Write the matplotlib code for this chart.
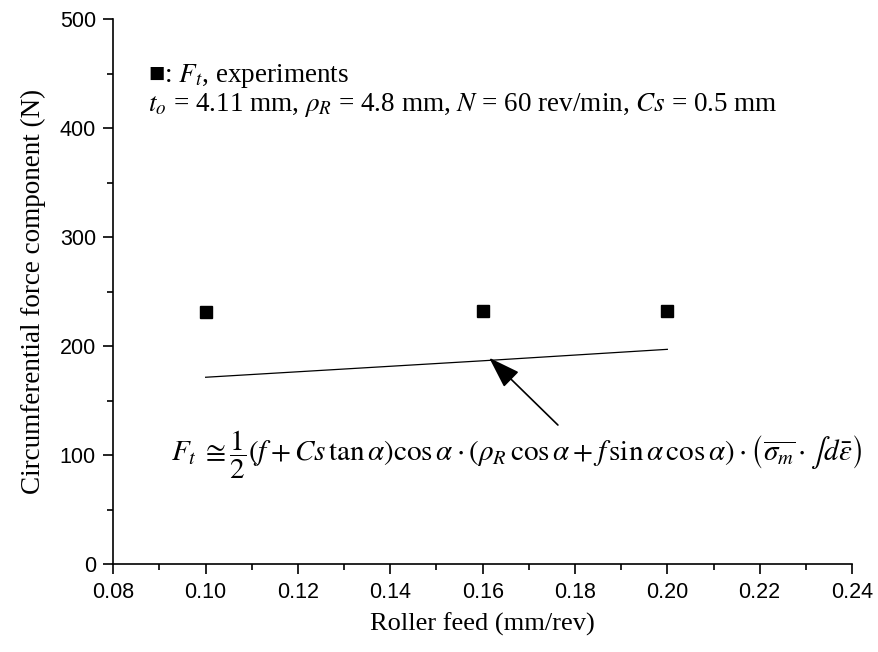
import matplotlib
matplotlib.use("Agg")
import matplotlib.pyplot as plt
from matplotlib.ticker import MultipleLocator, FormatStrFormatter

plt.rcParams["mathtext.fontset"] = "stix"
SERIF = "Liberation Serif"
SANS = "Liberation Sans"

# experimental circumferential force
feed_exp = [0.10, 0.16, 0.20]
force_exp = [231.6, 232.5, 232.5]

# analytical prediction
feed_calc = [0.10, 0.16, 0.20]
force_calc = [171.5, 186.6, 197.1]

x_ticks = [0.08, 0.10, 0.12, 0.14, 0.16, 0.18, 0.20, 0.22, 0.24]
y_ticks = [0, 100, 200, 300, 400, 500]

fig = plt.figure(figsize=(8.79, 6.52), dpi=100)
ax = fig.add_axes([0.1289, 0.1345, 0.9693 - 0.1289, 0.9709 - 0.1345])

ax.plot(feed_calc, force_calc, color="black", linewidth=0.9)
ax.plot(feed_exp, force_exp, linestyle="none", marker="s", markersize=8,
        color="black")

ax.set_xlim(x_ticks[0], x_ticks[-1])
ax.set_ylim(y_ticks[0], y_ticks[-1])
ax.set_xticks(x_ticks)
ax.set_yticks(y_ticks)
ax.xaxis.set_minor_locator(MultipleLocator(0.01))
ax.yaxis.set_minor_locator(MultipleLocator(50))
ax.xaxis.set_major_formatter(FormatStrFormatter("%.2f"))
for s in ("top", "right"):
    ax.spines[s].set_visible(False)
for s in ("left", "bottom"):
    ax.spines[s].set_linewidth(1.2)
ax.tick_params(which="major", direction="out", length=7.5, width=1.2,
               labelsize=15.5, pad=5)
ax.tick_params(which="minor", direction="out", length=4.5, width=1.2)
for lab in ax.get_xticklabels() + ax.get_yticklabels():
    lab.set_fontfamily(SANS)

ax.set_xlabel("Roller feed (mm/rev)", fontsize=19, family=SERIF, labelpad=7)
ax.set_ylabel("Circumferential force component (N)", fontsize=19.5,
              family=SERIF, labelpad=10)

ax.text(0.0875, 448, "\u25a0: $F_t$, experiments", fontsize=19.5,
        family=[SERIF, "DejaVu Sans"], va="center", ha="left")
ax.text(0.0875, 421,
        r"$t_o$ = 4.11 mm, $\rho_R$ = 4.8 mm, $N$ = 60 rev/min, $Cs$ = 0.5 mm",
        fontsize=19.5, family=SERIF, va="center", ha="left")

eq = (r"$F_t\;\cong\dfrac{1}{2}\left(f+Cs\,\tan\alpha\right)\cos\alpha\cdot"
      r"\left(\rho_R\,\cos\alpha+f\,\sin\alpha\,\cos\alpha\right)\cdot"
      r"\left(\overline{\sigma_m}\cdot\int d\bar{\varepsilon}\right)$")
ax.text(0.0924, 100, eq, fontsize=21, va="center", ha="left")

ax.annotate("", xy=(0.1614, 189.4), xytext=(0.1763, 127.7),
            arrowprops=dict(arrowstyle="-|>,head_length=0.9,head_width=0.3",
                            color="black", lw=1.2,
                            mutation_scale=22, shrinkA=0, shrinkB=0))

fig.savefig("out.png", dpi=100)
